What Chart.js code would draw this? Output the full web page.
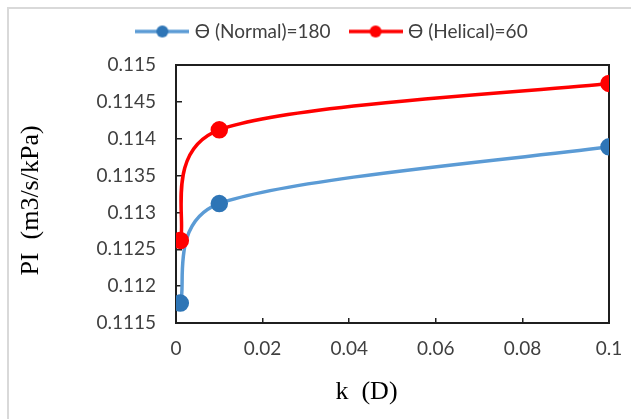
<!DOCTYPE html>
<html>
  <head>
    <title>PI vs k</title>
    <script src="https://cdn.jsdelivr.net/npm/chart.js"></script>
    <style>
      body {
        margin: 0;
        background: #ffffff;
        overflow: hidden;
      }
      #wrap {
        position: relative;
        width: 631px;
        height: 419px;
        overflow: hidden;
      }
      #outline {
        position: absolute;
        left: 7px;
        top: 7px;
        width: 700px;
        height: 500px;
        border-left: 2px solid #d9d9d9;
        border-top: 2px solid #d9d9d9;
        pointer-events: none;
      }
    </style>
  </head>
  <body>
    <div id="wrap">
      <canvas id="chart" width="631" height="419"></canvas>
      <div id="outline"></div>
    </div>

    <script>
      // values
      const kValues = [0.001, 0.01, 0.1];
      const piNormal = [0.11177, 0.11312, 0.11389];
      const piHelical = [0.11262, 0.11412, 0.11475];
      const xTicks = [0, 0.02, 0.04, 0.06, 0.08, 0.1];
      const yTicks = [0.1115, 0.112, 0.1125, 0.113, 0.1135, 0.114, 0.1145, 0.115];
      const seriesNames = ["ϴ (Normal)=180", "ϴ (Helical)=60"];

      const tickFont = { family: "Lato", size: 19 };
      const titleFont = { family: "Liberation Serif", size: 26 };

      // little line + dot picture for the legend, like Excel's
      function legendIcon(lineColor, dotColor) {
        const c = document.createElement("canvas");
        c.width = 54;
        c.height = 16;
        const g = c.getContext("2d");
        g.strokeStyle = lineColor;
        g.lineWidth = 3.5;
        g.beginPath();
        g.moveTo(0, 8);
        g.lineTo(54, 8);
        g.stroke();
        g.fillStyle = dotColor;
        g.beginPath();
        g.arc(27, 8, 6, 0, Math.PI * 2);
        g.fill();
        return c;
      }
      const icons = [legendIcon("#5b9bd5", "#2e75b6"), legendIcon("#ff0000", "#ff0000")];

      const excelLook = {
        id: "excelLook",
        afterInit(chart) {
          // extra room between legend and plot
          const fit = chart.legend.fit;
          chart.legend.fit = function () {
            fit.call(this);
            this.height += 14;
          };
        },
        afterLayout(chart) {
          chart.legend.left += 24;
          chart.legend.right += 24;
        },
        beforeDatasetsDraw(chart) {
          const { ctx, chartArea: a } = chart;
          ctx.save();
          ctx.strokeStyle = "#1f1f1f";
          ctx.lineWidth = 2;
          ctx.strokeRect(a.left, a.top, a.right - a.left, a.bottom - a.top);
          ctx.restore();
        },
        // Excel style smoothed line: bezier handles capped at half the segment
        beforeDatasetDraw(chart, args) {
          const pts = args.meta.data;
          const n = pts.length;
          for (let i = 0; i < n - 1; i++) {
            const p0 = pts[Math.max(i - 1, 0)];
            const p1 = pts[i];
            const p2 = pts[i + 1];
            const p3 = pts[Math.min(i + 2, n - 1)];
            const d12 = Math.hypot(p2.x - p1.x, p2.y - p1.y);
            const d02 = Math.hypot(p2.x - p0.x, p2.y - p0.y);
            const d13 = Math.hypot(p3.x - p1.x, p3.y - p1.y);
            const f1 = d02 / 6 < d12 / 2 ? 1 / 6 : d12 / (2 * d02);
            const f2 = d13 / 6 < d12 / 2 ? 1 / 6 : d12 / (2 * d13);
            p1.cp2x = p1.x + f1 * (p2.x - p0.x);
            p1.cp2y = p1.y + f1 * (p2.y - p0.y);
            p2.cp1x = p2.x - f2 * (p3.x - p1.x);
            p2.cp1y = p2.y - f2 * (p3.y - p1.y);
          }
          args.meta.dataset._pointsUpdated = true;
        },
      };

      const fmt = (v) => String(+Number(v).toFixed(4));

      new Chart(document.getElementById("chart"), {
        type: "line",
        data: {
          datasets: [
            {
              label: seriesNames[0],
              data: kValues.map((k, i) => ({ x: k, y: piNormal[i] })),
              borderColor: "#5b9bd5",
              backgroundColor: "#2e75b6",
              pointBackgroundColor: "#2e75b6",
              pointBorderColor: "#2e75b6",
              borderWidth: 3.5,
              pointRadius: 7,
              tension: 0.4,
              order: 1,
            },
            {
              label: seriesNames[1],
              data: kValues.map((k, i) => ({ x: k, y: piHelical[i] })),
              borderColor: "#ff0000",
              backgroundColor: "#ff0000",
              pointBackgroundColor: "#ff0000",
              pointBorderColor: "#ff0000",
              borderWidth: 3.5,
              pointRadius: 7,
              tension: 0.4,
              order: 0,
            },
          ],
        },
        options: {
          responsive: false,
          animation: false,
          layout: { padding: { left: 10, right: 22, top: 0, bottom: 10 } },
          plugins: {
            tooltip: { enabled: false },
            legend: {
              position: "top",
              labels: {
                usePointStyle: true,
                pointStyleWidth: 46,
                padding: 22,
                color: "#404040",
                font: tickFont,
                sort: (a, b) => a.datasetIndex - b.datasetIndex,
                generateLabels(chart) {
                  const items = Chart.defaults.plugins.legend.labels.generateLabels(chart);
                  items.forEach((it) => (it.pointStyle = icons[it.datasetIndex]));
                  return items;
                },
              },
            },
          },
          scales: {
            x: {
              type: "linear",
              min: 0,
              max: 0.1,
              afterBuildTicks: (s) => (s.ticks = xTicks.map((v) => ({ value: v }))),
              afterFit: (s) => {
                s.height = 86;
                s.paddingLeft = 0;
                s.paddingRight = 0;
              },
              border: { display: false },
              grid: { drawOnChartArea: false, tickLength: -5, color: "#1f1f1f", lineWidth: 1.5 },
              ticks: { color: "#404040", font: tickFont, padding: 19, maxRotation: 0, callback: fmt },
              title: { display: true, text: "k  (D)        ", color: "#000000", font: titleFont, padding: { top: 0, bottom: 1 } },
            },
            y: {
              min: 0.1115,
              max: 0.115,
              afterBuildTicks: (s) => (s.ticks = yTicks.map((v) => ({ value: v }))),
              afterFit: (s) => (s.width = 166),
              border: { display: false },
              grid: { drawOnChartArea: false, tickLength: -6, color: "#1f1f1f", lineWidth: 1.5 },
              ticks: { color: "#404040", font: tickFont, padding: 26, callback: fmt },
              title: { display: true, text: "PI  (m3/s/kPa)  ", color: "#000000", font: titleFont, padding: { top: 6, bottom: 0 } },
            },
          },
        },
        plugins: [excelLook],
      });
    </script>
  </body>
</html>
